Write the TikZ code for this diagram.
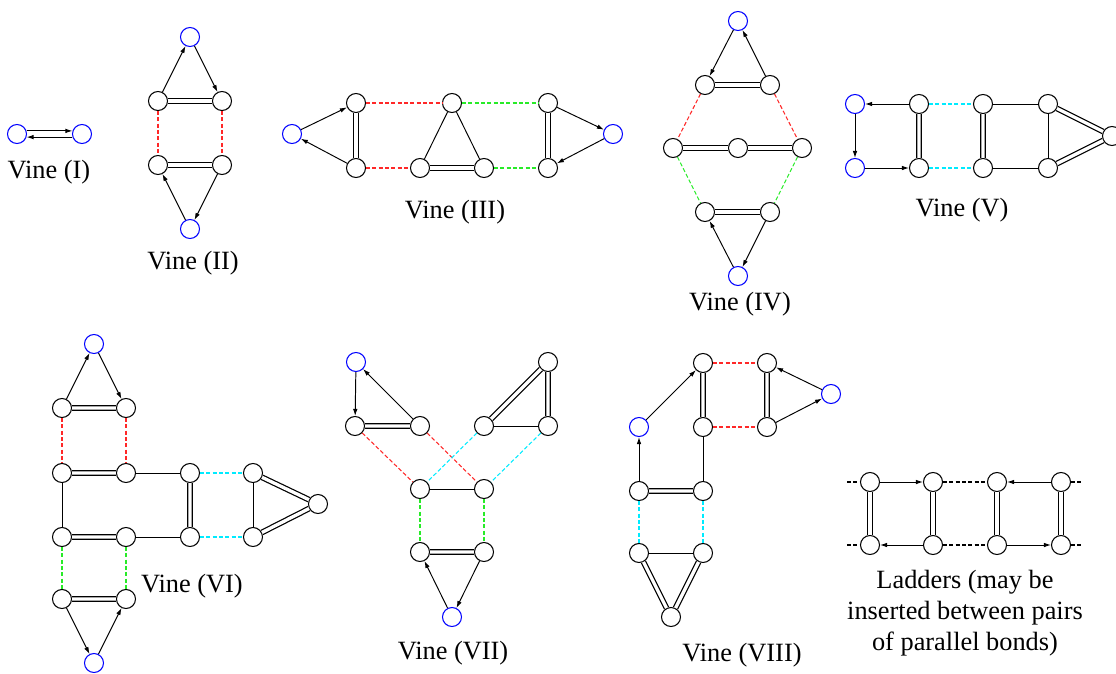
\documentclass[tikz,border=0pt]{standalone}
\usepackage{fontspec}
\setmainfont{Liberation Serif}
\usetikzlibrary{arrows.meta}
\definecolor{linkred}{RGB}{255,40,40}
\definecolor{linkgreen}{RGB}{40,235,40}
\definecolor{linkcyan}{RGB}{0,235,255}

\begin{document}
\begin{tikzpicture}[x=0.02cm,y=-0.02cm,
 blackstyle/.style={circle,draw,fill=white,line width=0.6pt,minimum size=0.38cm,inner sep=0pt},
 bluestyle/.style={blackstyle,draw=blue},
 bondstyle/.style={line width=0.55pt},
 doublestyle/.style={line width=0.7pt,double,double distance=1.9pt},
 arrowstyle/.style={line width=0.55pt,-{Latex[length=4pt,width=2.6pt]}},
 redstyle/.style={line width=0.6pt,linkred,dash pattern=on 2.3pt off 1.3pt},
 greenstyle/.style={redstyle,linkgreen},
 cyanstyle/.style={redstyle,linkcyan},
 ladderstyle/.style={redstyle,black},
 labelstyle/.style={font=\fontsize{15}{17.6}\selectfont}]
\useasboundingbox (0,0) rectangle (1116,673);

% Vine (I)
\node[bluestyle](ia) at (17,134){};
\node[bluestyle](ib) at (82,134){};
\draw[arrowstyle] (ia.18) -- (ib.162);
\draw[arrowstyle] (ib.198) -- (ia.-18);
\node[labelstyle](li) at (49,172){Vine (I)};

% Vine (II)
\node[bluestyle](iit) at (190,37){};
\node[bluestyle](iiu) at (190,229){};
\foreach \n/\x/\y in {a/158/101,b/222/101,c/158/165,d/222/165}
 \node[blackstyle](ii\n) at (\x,\y){};
\draw[arrowstyle] (iia) -- (iit);
\draw[arrowstyle] (iit) -- (iib);
\draw[doublestyle] (iia) -- (iib) (iic) -- (iid);
\draw[redstyle] (iia) -- (iic) (iib) -- (iid);
\draw[arrowstyle] (iiu) -- (iic);
\draw[arrowstyle] (iid) -- (iiu);
\node[labelstyle](lii) at (193,263){Vine (II)};

% Vine (III)
\node[bluestyle](iiil) at (292,134){};
\node[bluestyle](iiir) at (613,134){};
\foreach \n/\x/\y in {a/356/103,b/356/168,c/452/103,d/420/168,e/484/168,f/548/103,g/548/168}
 \node[blackstyle](iii\n) at (\x,\y){};
\draw[arrowstyle] (iiil) -- (iiia);
\draw[arrowstyle] (iiib) -- (iiil);
\draw[doublestyle] (iiia) -- (iiib) (iiid) -- (iiie) (iiif) -- (iiig);
\draw[redstyle] (iiia) -- (iiic) (iiib) -- (iiid);
\draw[bondstyle] (iiic) -- (iiid) (iiic) -- (iiie);
\draw[greenstyle] (iiic) -- (iiif) (iiie) -- (iiig);
\draw[arrowstyle] (iiif) -- (iiir);
\draw[arrowstyle] (iiir) -- (iiig);
\node[labelstyle](liii) at (455,212){Vine (III)};

% Vine (IV)
\node[bluestyle](ivt) at (738,21){};
\node[bluestyle](ivu) at (738,276){};
\foreach \n/\x/\y in {a/705/85,b/770/85,c/673/148,d/738/148,e/802/148,f/705/212,g/770/212}
 \node[blackstyle](iv\n) at (\x,\y){};
\draw[arrowstyle] (ivt) -- (iva);
\draw[arrowstyle] (ivb) -- (ivt);
\draw[doublestyle] (iva) -- (ivb) (ivc) -- (ivd) (ivd) -- (ive) (ivf) -- (ivg);
\draw[redstyle] (iva) -- (ivc) (ivb) -- (ive);
\draw[greenstyle] (ivc) -- (ivf) (ive) -- (ivg);
\draw[arrowstyle] (ivu) -- (ivf);
\draw[arrowstyle] (ivg) -- (ivu);
\node[labelstyle](liv) at (740,304){Vine (IV)};

% Vine (V)
\node[bluestyle](va) at (855,104){};
\node[bluestyle](vb) at (855,168){};
\foreach \n/\x/\y in {c/919/104,d/919/168,e/983/104,f/983/168,g/1048/104,h/1048/168,i/1112/136}
 \node[blackstyle](v\n) at (\x,\y){};
\draw[arrowstyle] (vc) -- (va);
\draw[arrowstyle] (va) -- (vb);
\draw[arrowstyle] (vb) -- (vd);
\draw[doublestyle] (vc) -- (vd) (ve) -- (vf) (vg) -- (vi) (vh) -- (vi);
\draw[cyanstyle] (vc) -- (ve) (vd) -- (vf);
\draw[bondstyle] (ve) -- (vg) (vf) -- (vh) (vg) -- (vh);
\node[labelstyle](lv) at (962,210){Vine (V)};

% Vine (VI)
\node[bluestyle](vit) at (94,344){};
\node[bluestyle](viu) at (94,663){};
\foreach \n/\x/\y in {a/62/408,b/126/408,c/62/473,d/126/473,e/190/473,f/253/473,x/318/504,
 g/62/537,h/126/537,i/190/537,j/253/537,k/62/599,l/126/599}
 \node[blackstyle](vi\n) at (\x,\y){};
\draw[arrowstyle] (via) -- (vit);
\draw[arrowstyle] (vit) -- (vib);
\draw[doublestyle] (via) -- (vib) (vic) -- (vid) (vig) -- (vih) (vie) -- (vii)
 (vif) -- (vix) (vij) -- (vix) (vik) -- (vil);
\draw[redstyle] (via) -- (vic) (vib) -- (vid);
\draw[bondstyle] (vid) -- (vie) (vic) -- (vig) (vih) -- (vii) (vif) -- (vij);
\draw[cyanstyle] (vie) -- (vif) (vii) -- (vij);
\draw[greenstyle] (vig) -- (vik) (vih) -- (vil);
\draw[arrowstyle] (vik) -- (viu);
\draw[arrowstyle] (viu) -- (vil);
\node[labelstyle](lvi) at (192,586){Vine (VI)};

% Vine (VII)
\node[bluestyle](viit) at (356,362){};
\node[bluestyle](viiu) at (452,617){};
\foreach \n/\x/\y in {a/355/426,b/420/426,c/484/426,d/548/426,e/548/362,
 f/420/489,g/484/489,h/420/552,i/484/552}
 \node[blackstyle](vii\n) at (\x,\y){};
\draw[arrowstyle] (viit) -- (viia);
\draw[arrowstyle] (viib) -- (viit);
\draw[doublestyle] (viia) -- (viib) (viic) -- (viie) (viie) -- (viid) (viih) -- (viii);
\draw[bondstyle] (viic) -- (viid) (viif) -- (viig);
\draw[redstyle] (viia) -- (viif) (viib) -- (viig);
\draw[cyanstyle] (viic) -- (viif) (viid) -- (viig);
\draw[greenstyle] (viif) -- (viih) (viig) -- (viii);
\draw[arrowstyle] (viiu) -- (viih);
\draw[arrowstyle] (viii) -- (viiu);
\node[labelstyle](lvii) at (453,653){Vine (VII)};

% Vine (VIII)
\node[bluestyle](viiil) at (639,427){};
\node[bluestyle](viiir) at (831,394){};
\foreach \n/\x/\y in {a/703/363,b/767/363,c/703/427,d/767/427,e/639/491,f/703/491,
 g/639/553,h/703/553,x/671/617}
 \node[blackstyle](viii\n) at (\x,\y){};
\draw[arrowstyle] (viiil) -- (viiia);
\draw[doublestyle] (viiia) -- (viiic) (viiib) -- (viiid) (viiie) -- (viiif)
 (viiig) -- (viiix) (viiih) -- (viiix);
\draw[redstyle] (viiia) -- (viiib) (viiic) -- (viiid);
\draw[arrowstyle] (viiir) -- (viiib);
\draw[arrowstyle] (viiid) -- (viiir);
\draw[arrowstyle] (viiie) -- (viiil);
\draw[bondstyle] (viiic) -- (viiif) (viiig) -- (viiih);
\draw[cyanstyle] (viiie) -- (viiig) (viiif) -- (viiih);
\node[labelstyle](lviii) at (742,655){Vine (VIII)};

% Ladders
\foreach \n/\x in {a/870,b/933,c/997,d/1061}
 \node[blackstyle](lt\n) at (\x,482){};
\foreach \n/\x in {a/870,b/933,c/997,d/1061}
 \node[blackstyle](lb\n) at (\x,545){};
\coordinate (ltl) at (847,482);
\coordinate (ltr) at (1083,482);
\coordinate (lbl) at (847,545);
\coordinate (lbr) at (1083,545);
\draw[ladderstyle] (ltl) -- (lta) (ltb) -- (ltc) (ltd) -- (ltr);
\draw[ladderstyle] (lbl) -- (lba) (lbb) -- (lbc) (lbd) -- (lbr);
\draw[arrowstyle] (lta) -- (ltb);
\draw[arrowstyle] (ltd) -- (ltc);
\draw[arrowstyle] (lbb) -- (lba);
\draw[arrowstyle] (lbc) -- (lbd);
\draw[doublestyle] (lta) -- (lba) (ltb) -- (lbb) (ltc) -- (lbc) (ltd) -- (lbd);
\node[labelstyle,align=center](lladder) at (965,613){Ladders (may be\\inserted between pairs\\of parallel bonds)};
\end{tikzpicture}
\end{document}
